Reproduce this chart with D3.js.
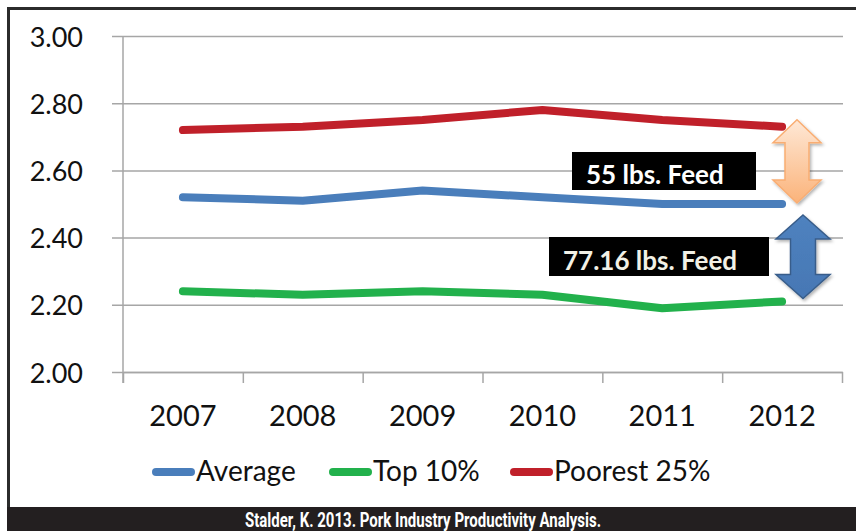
<!DOCTYPE html>
<html>
<head>
<meta charset="utf-8">
<script src="https://cdn.jsdelivr.net/npm/d3@7"></script>
<style>
  body { margin: 0; background: #fff; }
  svg { display: block; }
</style>
</head>
<body>
<script>
var years = ["2007", "2008", "2009", "2010", "2011", "2012"];
var average = [2.52, 2.51, 2.54, 2.52, 2.50, 2.50];
var top10 = [2.24, 2.23, 2.24, 2.23, 2.19, 2.21];
var poorest25 = [2.72, 2.73, 2.75, 2.78, 2.75, 2.73];
var yTicks = [2.00, 2.20, 2.40, 2.60, 2.80, 3.00];
var seriesNames = ["Average", "Top 10%", "Poorest 25%"];
var seriesColors = ["#4a7ebb", "#22b14c", "#c0202a"];
var noteTexts = ["55 lbs. Feed", "77.16 lbs. Feed"];
var sourceText = "Stalder, K. 2013. Pork Industry Productivity Analysis.";

var W = 856, H = 531;
var plotLeft = 123, plotRight = 842, plotTop = 36, plotBottom = 372;

var svg = d3.select("body").append("svg")
  .attr("width", W)
  .attr("height", H);

var defs = svg.append("defs");
var og = defs.append("linearGradient").attr("id", "orangeGrad")
  .attr("x1", 0).attr("y1", 0).attr("x2", 0).attr("y2", 1);
og.append("stop").attr("offset", "0%").attr("stop-color", "#fee8d6");
og.append("stop").attr("offset", "100%").attr("stop-color", "#fbb37a");
var bg = defs.append("linearGradient").attr("id", "blueGrad")
  .attr("x1", 0).attr("y1", 0).attr("x2", 0).attr("y2", 1);
bg.append("stop").attr("offset", "0%").attr("stop-color", "#4f82bf");
bg.append("stop").attr("offset", "100%").attr("stop-color", "#4677b4");
var sh = defs.append("filter").attr("id", "shadow")
  .attr("x", "-30%").attr("y", "-30%").attr("width", "160%").attr("height", "160%");
sh.append("feDropShadow").attr("dx", 1.5).attr("dy", 2).attr("stdDeviation", 1.5)
  .attr("flood-color", "#000").attr("flood-opacity", 0.3);

// frame
svg.append("rect")
  .attr("x", 8.5).attr("y", 8.5)
  .attr("width", W + 10).attr("height", 500)
  .attr("fill", "none")
  .attr("stroke", "#2b2b2b")
  .attr("stroke-width", 3);

var x = d3.scaleBand().domain(years).range([plotLeft, plotRight]);
var xEdges = d3.scaleLinear().domain([0, years.length]).range([plotLeft, plotRight]);
var y = d3.scaleLinear().domain([2, 3]).range([plotBottom, plotTop]);

// gridlines
var grid = svg.append("g")
  .attr("transform", "translate(112,0)")
  .call(d3.axisRight(y).tickValues(yTicks).tickSize(plotRight + 1 - 112).tickFormat(""));
grid.select(".domain").remove();
grid.selectAll("line").attr("stroke", "#a6a6a6").attr("stroke-width", 1.5);

// y labels
var yAxis = svg.append("g")
  .attr("transform", "translate(" + plotLeft + ",0)")
  .call(d3.axisLeft(y).tickValues(yTicks).tickSize(0).tickPadding(40).tickFormat(d3.format(".2f")));
yAxis.select(".domain").remove();
yAxis.selectAll("text")
  .attr("dy", "0.37em")
  .style("font-family", "Lato, 'Open Sans', sans-serif")
  .style("font-size", "27px")
  .attr("fill", "#111");

// vertical axis line
svg.append("line")
  .attr("x1", plotLeft).attr("x2", plotLeft)
  .attr("y1", plotTop).attr("y2", plotBottom + 11)
  .attr("stroke", "#a6a6a6").attr("stroke-width", 1.5);

// x boundary ticks
var xTicks = svg.append("g")
  .attr("transform", "translate(0," + plotBottom + ")")
  .call(d3.axisBottom(xEdges).tickValues(d3.range(years.length + 1)).tickSize(11).tickSizeOuter(0).tickFormat(""));
xTicks.selectAll("line, path").attr("stroke", "#a6a6a6").attr("stroke-width", 1.5);

// x labels
var xAxis = svg.append("g")
  .attr("transform", "translate(0," + plotBottom + ")")
  .call(d3.axisBottom(x).tickSize(0).tickPadding(33));
xAxis.select(".domain").remove();
xAxis.selectAll("text")
  .attr("dy", "0.71em")
  .style("font-family", "Lato, 'Open Sans', sans-serif")
  .style("font-size", "29px")
  .attr("fill", "#111");

// lines
var seriesData = [average, top10, poorest25];
var line = d3.line()
  .x(function(d, i) { return x(years[i]) + x.bandwidth() / 2; })
  .y(function(d) { return y(d); })
  .curve(d3.curveLinear);

svg.selectAll(".series")
  .data(seriesData)
  .enter()
  .append("path")
  .attr("class", "series")
  .attr("d", line)
  .attr("fill", "none")
  .attr("stroke", function(d, i) { return seriesColors[i]; })
  .attr("stroke-width", 8)
  .attr("stroke-linecap", "round")
  .attr("stroke-linejoin", "round");

// note boxes
var notes = [
  { text: noteTexts[0], x0: 572, x1: 756, y0: 152, y1: 190, tx: 586, color: "#ffffff" },
  { text: noteTexts[1], x0: 549, x1: 769, y0: 237, y1: 276, tx: 563, color: "#f2f1e6" }
];
var noteG = svg.selectAll(".note").data(notes).enter().append("g").attr("class", "note");
noteG.append("rect")
  .attr("x", function(d) { return d.x0; })
  .attr("y", function(d) { return d.y0; })
  .attr("width", function(d) { return d.x1 - d.x0; })
  .attr("height", function(d) { return d.y1 - d.y0; })
  .attr("fill", "#000");
noteG.append("text")
  .attr("x", function(d) { return d.tx; })
  .attr("y", function(d) { return d.y1 - 6; })
  .attr("fill", function(d) { return d.color; })
  .style("font-family", "Lato, 'Open Sans', sans-serif")
  .style("font-weight", "bold")
  .style("font-size", "26px")
  .text(function(d) { return d.text; });

// double arrows between 2012 values
function doubleArrow(cx, top, bottom, headHalf, shaftHalf, headLen) {
  return "M" + cx + "," + top +
    "L" + (cx + headHalf) + "," + (top + headLen) +
    "L" + (cx + shaftHalf) + "," + (top + headLen) +
    "L" + (cx + shaftHalf) + "," + (bottom - headLen) +
    "L" + (cx + headHalf) + "," + (bottom - headLen) +
    "L" + cx + "," + bottom +
    "L" + (cx - headHalf) + "," + (bottom - headLen) +
    "L" + (cx - shaftHalf) + "," + (bottom - headLen) +
    "L" + (cx - shaftHalf) + "," + (top + headLen) +
    "L" + (cx - headHalf) + "," + (top + headLen) + "Z";
}
var last = years.length - 1;
svg.append("path")
  .attr("d", doubleArrow(797, y(poorest25[last]) - 7, y(average[last]) - 1, 24, 12, 23))
  .attr("fill", "url(#orangeGrad)")
  .attr("stroke", "#f9ad72")
  .attr("stroke-width", 1.5)
  .attr("filter", "url(#shadow)");
svg.append("path")
  .attr("d", doubleArrow(803, y(average[last]) + 11, y(top10[last]) - 3, 27, 12.5, 24))
  .attr("fill", "url(#blueGrad)")
  .attr("stroke", "#385d8a")
  .attr("stroke-width", 1.5)
  .attr("filter", "url(#shadow)");

// legend
var legendX = [152, 329, 510];
var legend = svg.selectAll(".legend")
  .data(seriesNames)
  .enter()
  .append("g")
  .attr("class", "legend")
  .attr("transform", function(d, i) { return "translate(" + legendX[i] + ",472)"; });
legend.append("line")
  .attr("x1", 4).attr("x2", 39)
  .attr("y1", 0).attr("y2", 0)
  .attr("stroke", function(d, i) { return seriesColors[i]; })
  .attr("stroke-width", 8)
  .attr("stroke-linecap", "round");
legend.append("text")
  .attr("x", 44)
  .attr("y", 9)
  .style("font-family", "Lato, 'Open Sans', sans-serif")
  .style("font-size", "28px")
  .attr("fill", "#111")
  .text(function(d) { return d; });

// source band
svg.append("rect")
  .attr("x", 7).attr("y", 507)
  .attr("width", W).attr("height", H - 507)
  .attr("fill", "#231f20");
svg.append("text")
  .attr("x", 245)
  .attr("y", 527)
  .attr("textLength", 356)
  .attr("lengthAdjust", "spacingAndGlyphs")
  .attr("fill", "#fff")
  .style("font-family", "'Liberation Sans Narrow', 'Roboto', sans-serif")
  .style("font-weight", "bold")
  .style("font-size", "19.5px")
  .text(sourceText);
</script>
</body>
</html>
